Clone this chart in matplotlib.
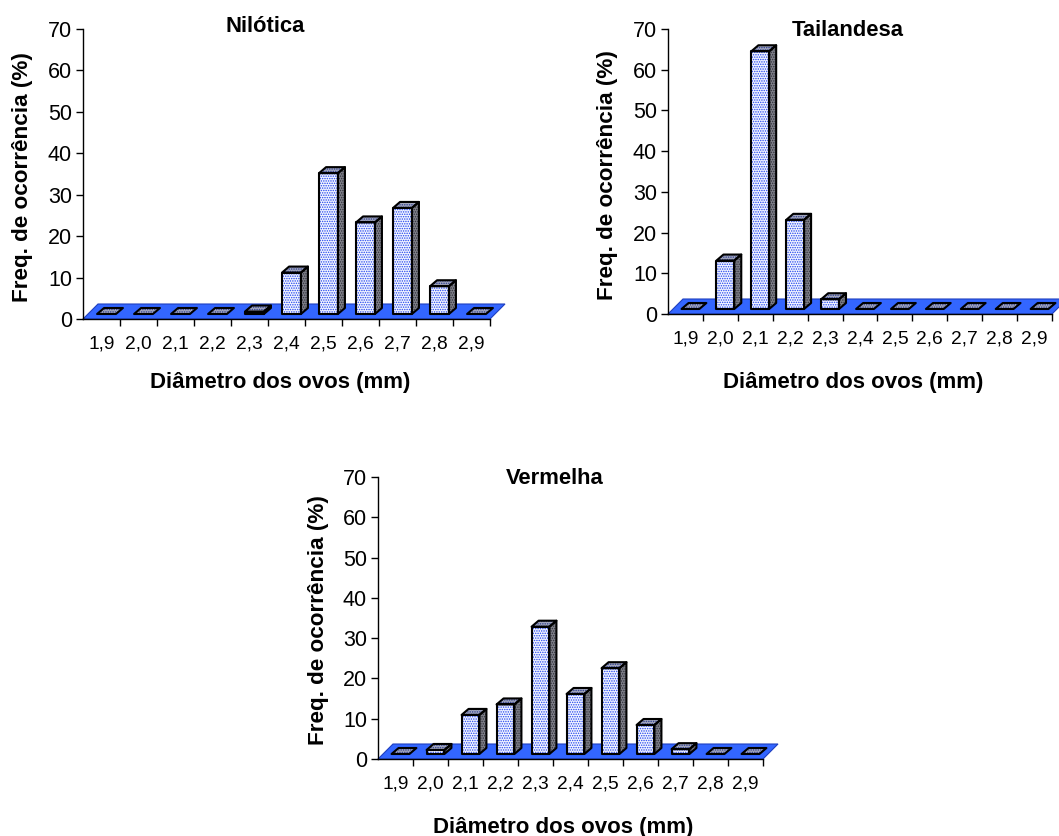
import matplotlib.pyplot as plt
from matplotlib.patches import Polygon

plt.rcParams['font.family'] = ['Liberation Sans', 'DejaVu Sans']
plt.rcParams['hatch.linewidth'] = 0.7

# Data (frequency of occurrence, %)
diametros = ['1,9', '2,0', '2,1', '2,2', '2,3', '2,4', '2,5', '2,6', '2,7', '2,8', '2,9']
nilotica = [0, 0, 0, 0, 0.6, 10, 34, 22.1, 25.6, 6.7, 0]
tailandesa = [0, 11.9, 63.3, 21.9, 2.4, 0, 0, 0, 0, 0, 0]
vermelha = [0, 1.0, 9.7, 12.3, 31.6, 14.9, 21.3, 7.2, 1.2, 0, 0]

W, H = 1059, 836
fig = plt.figure(figsize=(W / 100, H / 100), dpi=100)

FLOOR = '#3366FF'
FRONT = '#F2F5FF'
TOP = '#A4A8BC'
SIDE = '#7E7F88'
DOTS = '#2244EE'


def face(ax, pts, fc, dots, z):
    ax.add_patch(Polygon(pts, closed=True, facecolor=fc, edgecolor='none', zorder=z, clip_on=False))
    ax.add_patch(Polygon(pts, closed=True, facecolor='none', edgecolor=dots, hatch='.......',
                         linewidth=0, zorder=z + 0.1, clip_on=False))
    ax.add_patch(Polygon(pts, closed=True, facecolor='none', edgecolor='black', linewidth=1.5,
                         joinstyle='round', zorder=z + 0.2, clip_on=False))


def painel(px_rect, valores, titulo, pos_t, pos_y, pos_x):
    left, top, right, bottom = px_rect
    ax = fig.add_axes([left / W, 1 - bottom / H, (right - left) / W, (bottom - top) / H])
    n = len(valores)
    ax.set_xlim(0, n)
    ax.set_ylim(0, 70)

    # pixel -> data conversion for the fake 3D depth
    ux = ax.bbox.width / n
    uy = ax.bbox.height / 70
    dx, dy = 15 / ux, 15 / uy          # floor depth
    fx, fy = 5 / ux, 5 / uy            # bar front offset
    bx, by = 7 / ux, 6 / uy            # bar depth

    floor = Polygon([(0, 0), (n, 0), (n + dx, dy), (dx, dy)], closed=True,
                    facecolor=FLOOR, edgecolor='#1f3fbf', linewidth=0.8, zorder=1, clip_on=False)
    ax.add_patch(floor)

    w = 0.51
    for i, v in enumerate(valores):
        xl = i + 0.5 - w / 2 + fx
        xr = xl + w
        yb = fy
        yt = yb + v
        z = 3 + i
        if v > 0:
            face(ax, [(xl, yb), (xr, yb), (xr, yt), (xl, yt)], FRONT, DOTS, z)
            face(ax, [(xr, yb), (xr + bx, yb + by), (xr + bx, yt + by), (xr, yt)], SIDE, '#30303a', z)
        face(ax, [(xl, yt), (xr, yt), (xr + bx, yt + by), (xl + bx, yt + by)], TOP, '#2a3a90', z)

    ax.set_yticks(range(0, 80, 10))
    ax.tick_params(axis='y', direction='out', length=5, width=1, pad=3, labelsize=15.5)
    ax.set_xticks(range(1, n + 1))
    ax.set_xticks([i + 0.5 for i in range(n)], minor=True)
    ax.set_xticklabels(diametros, minor=True)
    ax.tick_params(axis='x', which='major', direction='out', length=5, width=1, labelbottom=False)
    ax.tick_params(axis='x', which='minor', length=0, pad=12, labelsize=13.8)
    for s in ['top', 'right']:
        ax.spines[s].set_visible(False)
    for s in ['left', 'bottom']:
        ax.spines[s].set_linewidth(1)
        ax.spines[s].set_zorder(2)
    ax.patch.set_visible(False)

    fig.text(pos_t[0] / W, 1 - pos_t[1] / H, titulo, ha='center', va='center',
             fontsize=15.8, fontweight='bold')
    fig.text(pos_y[0] / W, 1 - pos_y[1] / H, 'Freq. de ocorrência (%)', ha='center', va='center',
             rotation=90, fontsize=16.2, fontweight='bold')
    fig.text(pos_x[0] / W, 1 - pos_x[1] / H, 'Diâmetro dos ovos (mm)', ha='center', va='center',
             fontsize=16, fontweight='bold')


painel((83, 29, 490, 319), nilotica, 'Nilótica', (265, 27), (23, 177), (280, 383))
painel((668, 29, 1052, 314), tailandesa, 'Tailandesa', (848, 31), (608, 175), (853, 383))
painel((378, 477, 763, 759), vermelha, 'Vermelha', (555, 479), (318, 620), (563, 827))

fig.savefig('out.png', dpi=100)
